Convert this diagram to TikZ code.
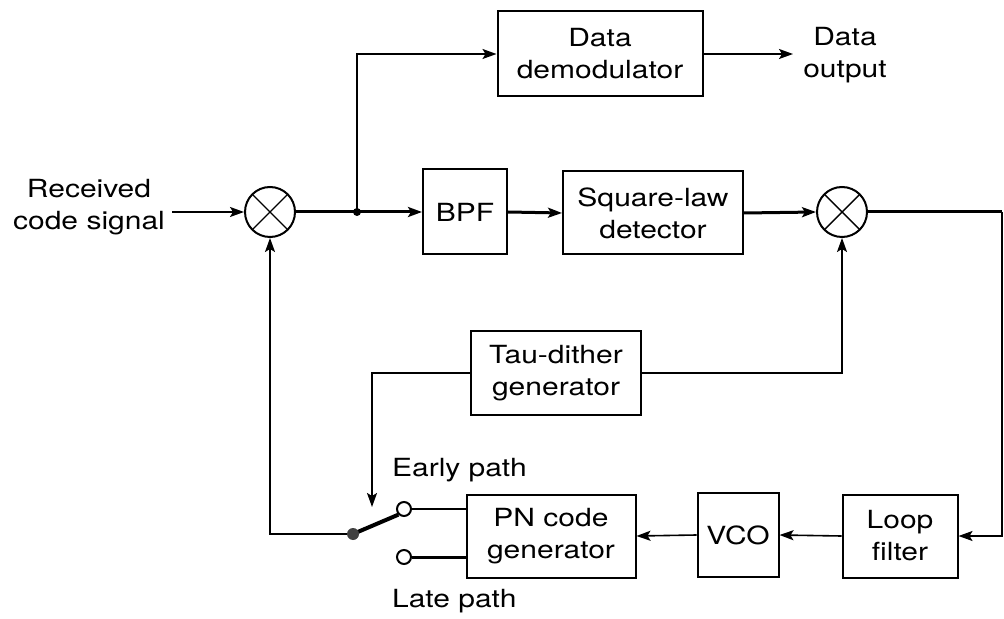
\documentclass[tikz,border=0pt]{standalone}
\usepackage{fontspec}
\setmainfont[FakeStretch=1.2]{TeX Gyre Heros}
\usetikzlibrary{arrows.meta}
\begin{document}
\begin{tikzpicture}[x=0.5pt,y=-0.5pt,
  blk/.style={draw,line width=1pt,inner sep=0pt,align=center,font=\fontsize{12.5}{16}\selectfont},
  mix/.style={draw,circle,line width=1pt,minimum size=25pt,inner sep=0pt,
    path picture={\draw[line width=0.7pt] (path picture bounding box.north west)--(path picture bounding box.south east)
      (path picture bounding box.north east)--(path picture bounding box.south west);}},
  lbl/.style={align=center,font=\fontsize{12.5}{16}\selectfont},
  thin/.style={line width=0.8pt},
  thick/.style={line width=1.5pt},
  arr/.style={-{Stealth[length=7pt,width=5pt,inset=1.5pt]}},
  contact/.style={draw,circle,line width=1pt,minimum size=7pt,inner sep=0pt,fill=white}
]
\useasboundingbox (0,0) rectangle (1004,619);
% blocks
\node[blk,minimum width=102.5pt,minimum height=42.5pt] (dem) at (600,54) {Data\\demodulator};
\node[blk,minimum width=42pt,minimum height=42.5pt] (bpf) at (465,212) {BPF};
\node[blk,minimum width=90pt,minimum height=41.5pt] (sld) at (653,213) {Square-law\\detector};
\node[blk,minimum width=85pt,minimum height=41.5pt] (tau) at (556,373) {Tau-dither\\generator};
\node[blk,minimum width=84.5pt,minimum height=41.5pt] (pn) at (551,536) {PN code\\generator};
\node[blk,minimum width=40.5pt,minimum height=42pt] (vco) at (738,535) {VCO};
\node[blk,minimum width=57.5pt,minimum height=41.5pt] (lf) at (900,536) {Loop\\filter};
\node[mix] (m1) at (270,212) {};
\node[mix] (m2) at (842,212) {};
% labels
\node[lbl] (rx) at (89,207) {Received\\code signal};
\node[lbl] (dout) at (845,55) {Data\\output};
\node[lbl,anchor=west] (early) at (385,470) {Early path};
\node[lbl,anchor=west] (late) at (385,601) {Late path};
% coordinates
\coordinate (rxend) at (172,212);
\coordinate (junc) at (357,212);
\coordinate (doutend) at (793,54);
\coordinate (redge) at (1002,212);
\coordinate (pivot) at (353,534);
\coordinate (tautip) at (372,507);
\node[contact] (ce) at (404,509) {};
\node[contact] (cl) at (404,557) {};
% connectors
\draw[thin,arr] (rxend) -- (m1.west);
\draw[thick] (m1.east) -- (junc);
\draw[thick,arr] (junc) -- (bpf.west);
\fill (junc) circle (4);
\draw[thin,arr] (junc) |- (dem.west);
\draw[thin,arr] (dem.east) -- (doutend);
\draw[thick,arr] (bpf.east) -- (sld.west);
\draw[thick,arr] (sld.east) -- (m2.west);
\draw[thick] (m2.east) -- (redge);
\draw[thin,arr] (redge) |- (lf.east);
\draw[thin,arr] (lf.west) -- (vco.east);
\draw[thin,arr] (vco.west) -- (pn.west -| pn.east);
\draw[thin,arr] (tau.east) -| (m2.south);
\draw[thin,arr] (tau.west) -| (tautip);
\draw[thin] (ce.east) -- (ce.east -| pn.west);
\draw[thick] (cl.east) -- (cl.east -| pn.west);
\draw[line width=2pt] (pivot) -- (ce.south west);
\draw[thin,arr] (pivot) -| (m1.south);
\fill[black!75] (pivot) circle (6);
\end{tikzpicture}
\end{document}
